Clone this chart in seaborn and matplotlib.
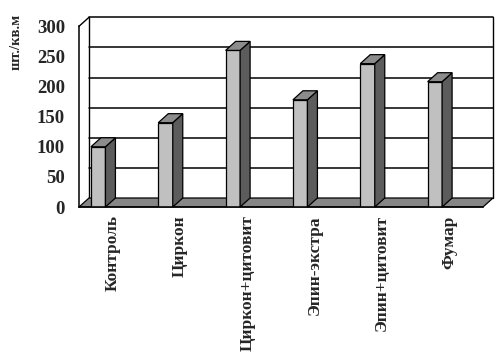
import matplotlib
matplotlib.use('Agg')
import matplotlib.pyplot as plt
from matplotlib.patches import Polygon
import numpy as np
import seaborn as sns

categories = ['Контроль', 'Циркон', 'Циркон+цитовит', 'Эпин-экстра', 'Эпин+цитовит', 'Фумар']
values = [100, 140, 260, 178, 238, 208]
yticks = [0, 50, 100, 150, 200, 250, 300]

sns.set_style('white')
plt.rcParams['font.family'] = ['Liberation Serif', 'DejaVu Serif']
plt.rcParams['font.weight'] = 'bold'

fig = plt.figure(figsize=(5.04, 3.57), dpi=100)
ax = fig.add_axes([79 / 504, 150 / 357, 404 / 504, 180.7 / 357])

sns.barplot(x=categories, y=values, color='#c0c0c0', width=0.215, saturation=1,
            edgecolor='black', linewidth=0.9, ax=ax, zorder=3)
ax.set_xlim(-0.5, 5.5)
ax.set_ylim(0, 300)

# depth of the 3d box, pixels -> data units
ddx = 10 * 6 / 404
ddy = 9 * 300 / 180.7

# back wall gridlines and edges
for v in yticks[1:]:
    ax.plot([-0.5 + ddx, 5.5 + ddx], [v + ddy, v + ddy], color='black', lw=1.1,
            clip_on=False, zorder=0.5)
ax.plot([-0.5 + ddx, -0.5 + ddx], [ddy, 300 + ddy], color='black', lw=1.0, clip_on=False, zorder=0.5)
ax.plot([5.5 + ddx, 5.5 + ddx], [ddy, 300 + ddy], color='black', lw=1.0, clip_on=False, zorder=0.5)
ax.plot([-0.5, -0.5 + ddx], [300, 300 + ddy], color='black', lw=1.0, clip_on=False, zorder=0.5)

# floor
floor = Polygon([[-0.5, 0], [5.5, 0], [5.5 + ddx, ddy], [-0.5 + ddx, ddy]], closed=True,
                facecolor='#868686', edgecolor='black', lw=0.9, clip_on=False, zorder=1)
ax.add_patch(floor)

# move front faces and add side / top faces
for p, h in zip(ax.patches[:len(values)], values):
    x0 = p.get_x() - 0.215
    p.set_x(x0)
    w = p.get_width()
    r = x0 + w
    side = Polygon([[r, 0], [r + ddx, ddy], [r + ddx, h + ddy], [r, h]], closed=True,
                   facecolor='#5c5c5c', edgecolor='black', lw=0.9, clip_on=False, zorder=3)
    top = Polygon([[x0, h], [r, h], [r + ddx, h + ddy], [x0 + ddx, h + ddy]], closed=True,
                  facecolor='#8c8c8c', edgecolor='black', lw=0.9, clip_on=False, zorder=3)
    ax.add_patch(side)
    ax.add_patch(top)

for s in ['top', 'right']:
    ax.spines[s].set_visible(False)
for s in ['left', 'bottom']:
    ax.spines[s].set_linewidth(1.1)
    ax.spines[s].set_color('black')
    ax.spines[s].set_zorder(4)

ax.set_yticks(yticks)
ax.set_yticklabels([str(v) for v in yticks], fontsize=13.5, fontweight='bold')
ax.set_xticks(range(len(categories)))
ax.set_xticklabels(categories, rotation=90, fontsize=12.5, fontweight='bold', va='top', ha='center')
ax.set_xticks(np.arange(-0.5, 6, 1), minor=True)
ax.tick_params(axis='y', direction='out', length=6, width=1.1, pad=4, color='black')
ax.tick_params(axis='x', which='major', length=0, pad=6)
ax.tick_params(axis='x', which='minor', direction='out', length=5, width=1.1, color='black')
ax.set_xlabel('')
ax.set_ylabel('')

fig.text(16 / 504, 1 - 42 / 357, 'шт./кв.м', rotation=90, fontsize=10.5, fontweight='bold',
         ha='center', va='center')

fig.savefig('out.png', dpi=100)
